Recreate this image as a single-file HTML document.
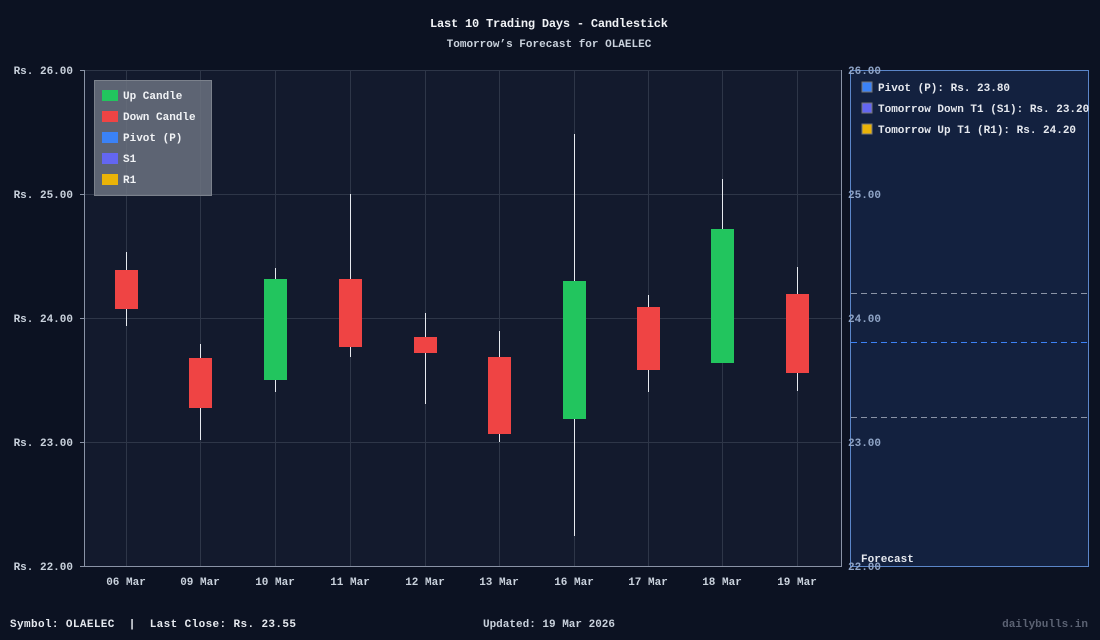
<!DOCTYPE html>
<html><head><meta charset="utf-8"><style>
body{margin:0;background:#0c1222;}
svg{display:block;font-family:"Liberation Mono","DejaVu Sans Mono",monospace;font-weight:bold;}
text{white-space:pre;}
</style></head><body>
<svg width="1100" height="640" xmlns="http://www.w3.org/2000/svg">
<rect width="1100" height="640" fill="#0c1222"/>
<rect x="84" y="70" width="758" height="496" fill="#131a2d"/>
<g stroke="#2e3648" stroke-width="1">
<line x1="84" y1="70.5" x2="842" y2="70.5"/><line x1="84" y1="194.5" x2="842" y2="194.5"/>
<line x1="84" y1="318.5" x2="842" y2="318.5"/><line x1="84" y1="442.5" x2="842" y2="442.5"/>
<line x1="126.5" y1="70" x2="126.5" y2="566"/><line x1="200.5" y1="70" x2="200.5" y2="566"/>
<line x1="275.5" y1="70" x2="275.5" y2="566"/><line x1="350.5" y1="70" x2="350.5" y2="566"/>
<line x1="425.5" y1="70" x2="425.5" y2="566"/><line x1="499.5" y1="70" x2="499.5" y2="566"/>
<line x1="574.5" y1="70" x2="574.5" y2="566"/><line x1="648.5" y1="70" x2="648.5" y2="566"/>
<line x1="722.5" y1="70" x2="722.5" y2="566"/><line x1="797.5" y1="70" x2="797.5" y2="566"/>
</g>
<g stroke="#8a93a6" stroke-width="1">
<line x1="84.5" y1="70" x2="84.5" y2="566"/><line x1="84" y1="566.5" x2="842" y2="566.5"/>
<line x1="80" y1="70.5" x2="84" y2="70.5"/><line x1="80" y1="194.5" x2="84" y2="194.5"/><line x1="80" y1="318.5" x2="84" y2="318.5"/><line x1="80" y1="442.5" x2="84" y2="442.5"/><line x1="80" y1="566.5" x2="84" y2="566.5"/>
<line x1="841.5" y1="70" x2="841.5" y2="566"/>
</g>
<g fill="#c9d1dc" font-size="11" text-anchor="end">
<text x="73" y="74">Rs. 26.00</text><text x="73" y="198">Rs. 25.00</text><text x="73" y="322">Rs. 24.00</text><text x="73" y="446">Rs. 23.00</text><text x="73" y="570">Rs. 22.00</text>
</g>
<rect x="850.5" y="70.5" width="238" height="496" fill="#13213f" stroke="#5b86c9"/>
<g fill="#8fa4c6" font-size="11">
<text x="848" y="74">26.00</text><text x="848" y="198">25.00</text><text x="848" y="322">24.00</text><text x="848" y="446">23.00</text><text x="848" y="570">22.00</text>
</g>
<g stroke-dasharray="6,4" stroke-width="1">
<line x1="851" y1="293.5" x2="1088" y2="293.5" stroke="#8a93a6"/>
<line x1="851" y1="342.5" x2="1088" y2="342.5" stroke="#3b82f6"/>
<line x1="851" y1="417.5" x2="1088" y2="417.5" stroke="#8a93a6"/>
</g>
<g font-size="11" fill="#e6e9ef">
<rect x="862" y="82" width="10" height="10" fill="#3b82f6" stroke="#777"/><text x="878" y="91">Pivot (P): Rs. 23.80</text>
<rect x="862" y="103" width="10" height="10" fill="#6366f1" stroke="#777"/><text x="878" y="112">Tomorrow Down T1 (S1): Rs. 23.20</text>
<rect x="862" y="124" width="10" height="10" fill="#eab308" stroke="#777"/><text x="878" y="133">Tomorrow Up T1 (R1): Rs. 24.20</text>
<text x="861" y="562">Forecast</text>
</g>
<g stroke="#e6e9ef" stroke-width="1">
<line x1="126.5" y1="252" x2="126.5" y2="326"/><line x1="200.5" y1="344" x2="200.5" y2="440"/>
<line x1="275.5" y1="268" x2="275.5" y2="392"/><line x1="350.5" y1="194" x2="350.5" y2="357"/>
<line x1="425.5" y1="313" x2="425.5" y2="404"/><line x1="499.5" y1="331" x2="499.5" y2="442"/>
<line x1="574.5" y1="134" x2="574.5" y2="536"/><line x1="648.5" y1="295" x2="648.5" y2="392"/>
<line x1="722.5" y1="179" x2="722.5" y2="363"/><line x1="797.5" y1="267" x2="797.5" y2="391"/>
</g>
<g>
<rect x="115" y="270" width="23" height="39" fill="#ef4444"/>
<rect x="189" y="358" width="23" height="50" fill="#ef4444"/>
<rect x="264" y="279" width="23" height="101" fill="#22c55e"/>
<rect x="339" y="279" width="23" height="68" fill="#ef4444"/>
<rect x="414" y="337" width="23" height="16" fill="#ef4444"/>
<rect x="488" y="357" width="23" height="77" fill="#ef4444"/>
<rect x="563" y="281" width="23" height="138" fill="#22c55e"/>
<rect x="637" y="307" width="23" height="63" fill="#ef4444"/>
<rect x="711" y="229" width="23" height="134" fill="#22c55e"/>
<rect x="786" y="294" width="23" height="79" fill="#ef4444"/>
</g>
<rect x="94.5" y="80.5" width="117" height="115" fill="#6b7280" fill-opacity="0.85" stroke="#7b818c"/>
<g font-size="11" fill="#f1f3f6">
<rect x="102" y="90" width="16" height="11" fill="#22c55e"/><text x="123" y="99">Up Candle</text>
<rect x="102" y="111" width="16" height="11" fill="#ef4444"/><text x="123" y="120">Down Candle</text>
<rect x="102" y="132" width="16" height="11" fill="#3b82f6"/><text x="123" y="141">Pivot (P)</text>
<rect x="102" y="153" width="16" height="11" fill="#6366f1"/><text x="123" y="162">S1</text>
<rect x="102" y="174" width="16" height="11" fill="#eab308"/><text x="123" y="183">R1</text>
</g>
<g font-size="11" fill="#c9d1dc" text-anchor="middle">
<text x="126" y="585">06 Mar</text><text x="200" y="585">09 Mar</text><text x="275" y="585">10 Mar</text><text x="350" y="585">11 Mar</text><text x="425" y="585">12 Mar</text><text x="499" y="585">13 Mar</text><text x="574" y="585">16 Mar</text><text x="648" y="585">17 Mar</text><text x="722" y="585">18 Mar</text><text x="797" y="585">19 Mar</text>
</g>
<text x="549" y="27" font-size="12" fill="#f1f3f6" text-anchor="middle" textLength="238">Last 10 Trading Days - Candlestick</text>
<text x="549" y="47" font-size="11" fill="#c9d1dc" text-anchor="middle">Tomorrow’s Forecast for OLAELEC</text>
<text x="10" y="627" font-size="11" fill="#e6e9ef" textLength="286">Symbol: OLAELEC  |  Last Close: Rs. 23.55</text>
<text x="549" y="627" font-size="11" fill="#c9d1dc" text-anchor="middle">Updated: 19 Mar 2026</text>
<text x="1088" y="627" font-size="11" fill="#5b6273" text-anchor="end">dailybulls.in</text>
</svg>
</body></html>
